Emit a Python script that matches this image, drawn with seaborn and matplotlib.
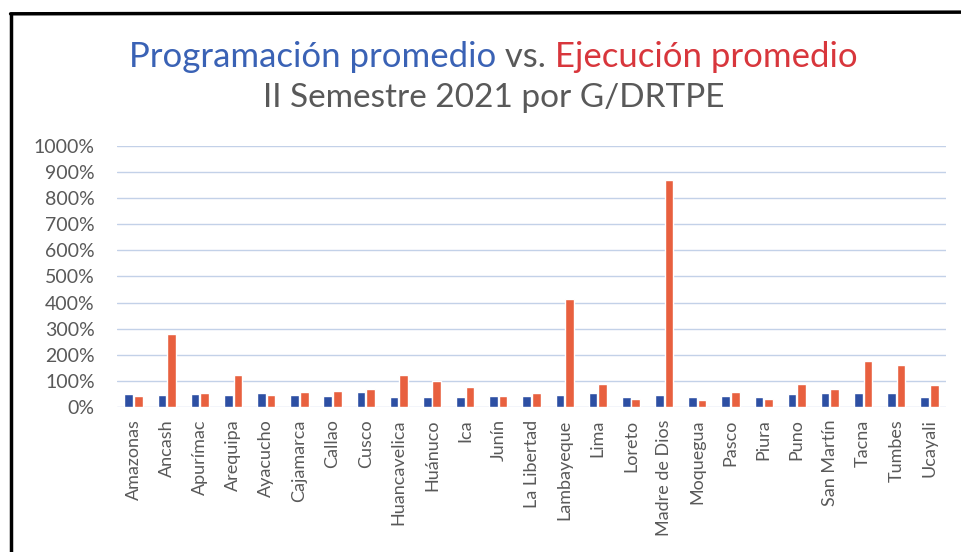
import numpy as np
import pandas as pd
import matplotlib
matplotlib.use('Agg')
import matplotlib.pyplot as plt
from matplotlib.lines import Line2D
from matplotlib.ticker import MultipleLocator, FuncFormatter
import seaborn as sns

# ---------------------------------------------------------------
# data (in %)
# ---------------------------------------------------------------
regiones = ['Amazonas', 'Ancash', 'Apurímac', 'Arequipa', 'Ayacucho', 'Cajamarca',
            'Callao', 'Cusco', 'Huancavelica', 'Huánuco', 'Ica', 'Junín',
            'La Libertad', 'Lambayeque', 'Lima', 'Loreto', 'Madre de Dios',
            'Moquegua', 'Pasco', 'Piura', 'Puno', 'San Martín', 'Tacna',
            'Tumbes', 'Ucayali']
programacion = [50, 45, 48, 46, 52, 45, 44, 56, 38, 38, 37, 43,
                42, 47, 52, 40, 47, 40, 42, 38, 48, 54, 52, 52, 40]
ejecucion = [44, 280, 54, 121, 46, 59, 60, 68, 122, 100, 75, 43,
             54, 414, 87, 32, 871, 28, 56, 30, 88, 70, 176, 160, 84]
series = ['Programación promedio', 'Ejecución promedio']

df = pd.DataFrame({
    'region': regiones * 2,
    'valor': programacion + ejecucion,
    'serie': [series[0]] * len(regiones) + [series[1]] * len(regiones),
})

# ---------------------------------------------------------------
# style
# ---------------------------------------------------------------
sns.set_style('white')
plt.rcParams['font.family'] = ['Lato', 'DejaVu Sans']

azul = '#2D4FA3'
naranja = '#E8603F'
gris = '#595959'

fig = plt.figure(figsize=(9.62, 5.52), dpi=100)
ax = fig.add_axes([0.1216, 0.2627, 0.8618, 0.4728])

sns.barplot(data=df, x='region', y='valor', hue='serie', order=regiones,
            palette=[azul, naranja], width=0.58, gap=0.1, legend=False,
            saturation=1, ax=ax)

ax.set_ylim(0, 1000)
ax.set_xlim(-0.5, len(regiones) - 0.5)
ax.yaxis.set_major_locator(MultipleLocator(100))
ax.yaxis.set_major_formatter(FuncFormatter(lambda v, p: f'{v:.0f}%'))
ax.grid(axis='y', color='#C3D1E8', lw=1)
ax.set_axisbelow(True)
for s in ax.spines.values():
    s.set_visible(False)
ax.set_xlabel('')
ax.set_ylabel('')
ax.tick_params(axis='both', length=0, colors=gris)
ax.tick_params(axis='x', rotation=90, pad=9, labelsize=13)
ax.tick_params(axis='y', pad=16, labelsize=14)

# ---------------------------------------------------------------
# title in three colours, centred
# ---------------------------------------------------------------
partes = [('Programación promedio', '#3A62B5'), (' vs. ', gris),
          ('Ejecución promedio', '#D8363C')]
r = fig.canvas.get_renderer()
textos = [fig.text(0, 0.897, s, color=c, fontsize=25, va='center') for s, c in partes]
anchos = [t.get_window_extent(r).width / fig.bbox.width for t in textos]
x0 = 0.513 - sum(anchos) / 2
for t, w in zip(textos, anchos):
    t.set_x(x0)
    x0 += w
fig.text(0.513, 0.822, 'II Semestre 2021 por G/DRTPE', color=gris,
         fontsize=24, ha='center', va='center')

# frame of the pasted chart (left and top edges)
fig.add_artist(Line2D([0.011, 0.011], [0.0, 0.975], color='black', lw=2.5,
                      transform=fig.transFigure))
fig.add_artist(Line2D([0.011, 1.0], [0.975, 0.978], color='black', lw=2.5,
                      transform=fig.transFigure))

fig.savefig('out.png', dpi=100)
